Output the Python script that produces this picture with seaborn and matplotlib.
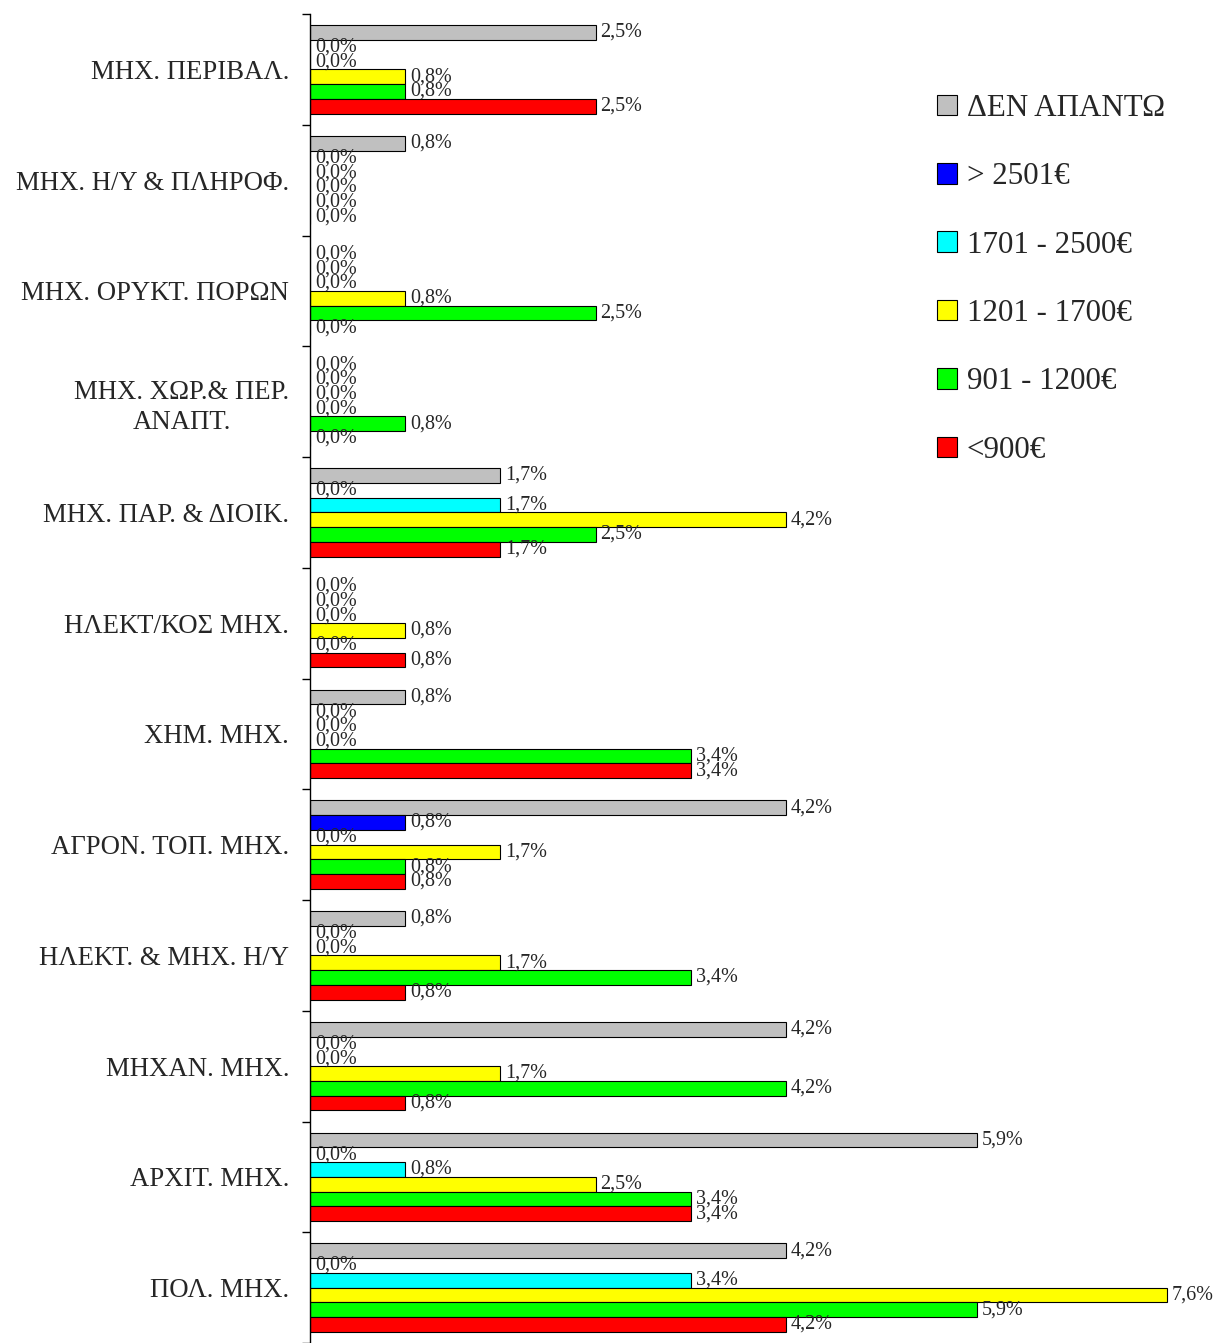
import numpy as np
import pandas as pd
import seaborn as sns
import matplotlib.pyplot as plt
from matplotlib.patches import Patch

# ---------- data (percent) ----------
categories = [
    "ΜΗΧ. ΠΕΡΙΒΑΛ.",
    "ΜΗΧ. Η/Υ & ΠΛΗΡΟΦ.",
    "ΜΗΧ. ΟΡΥΚΤ. ΠΟΡΩΝ",
    "ΜΗΧ. ΧΩΡ.& ΠΕΡ.\nΑΝΑΠΤ.",
    "ΜΗΧ. ΠΑΡ. & ΔΙΟΙΚ.",
    "ΗΛΕΚΤ/ΚΟΣ ΜΗΧ.",
    "ΧΗΜ. ΜΗΧ.",
    "ΑΓΡΟΝ. ΤΟΠ. ΜΗΧ.",
    "ΗΛΕΚΤ. & ΜΗΧ. Η/Υ",
    "ΜΗΧΑΝ. ΜΗΧ.",
    "ΑΡΧΙΤ. ΜΗΧ.",
    "ΠΟΛ. ΜΗΧ.",
]

series_names = ["ΔΕΝ ΑΠΑΝΤΩ", "> 2501€", "1701 - 2500€", "1201 - 1700€", "901 - 1200€", "<900€"]
series_colors = ["#C0C0C0", "#0000FF", "#00FFFF", "#FFFF00", "#00FF00", "#FF0000"]

no_answer = [2.52, 0.84, 0.0, 0.0, 1.68, 0.0, 0.84, 4.20, 0.84, 4.20, 5.88, 4.20]
over_2501 = [0.0, 0.0, 0.0, 0.0, 0.0, 0.0, 0.0, 0.84, 0.0, 0.0, 0.0, 0.0]
r1701_2500 = [0.0, 0.0, 0.0, 0.0, 1.68, 0.0, 0.0, 0.0, 0.0, 0.0, 0.84, 3.36]
r1201_1700 = [0.84, 0.0, 0.84, 0.0, 4.20, 0.84, 0.0, 1.68, 1.68, 1.68, 2.52, 7.56]
r901_1200 = [0.84, 0.0, 2.52, 0.84, 2.52, 0.0, 3.36, 0.84, 3.36, 4.20, 3.36, 5.88]
under_900 = [2.52, 0.0, 0.0, 0.0, 1.68, 0.84, 3.36, 0.84, 0.84, 0.84, 3.36, 4.20]

series_values = [no_answer, over_2501, r1701_2500, r1201_1700, r901_1200, under_900]

rows = []
for name, vals in zip(series_names, series_values):
    for cat, v in zip(categories, vals):
        rows.append({"category": cat, "series": name, "value": v})
df = pd.DataFrame(rows)

# ---------- style ----------
sns.set_style("white")
serif = ["Liberation Serif", "DejaVu Serif"]
plt.rcParams["font.family"] = serif

fig = plt.figure(figsize=(12.17, 13.43), dpi=100)
ax = fig.add_axes([310 / 1217, 0.0, 907 / 1217, 1 - 14 / 1343])

sns.barplot(
    data=df,
    x="value",
    y="category",
    hue="series",
    order=categories,
    hue_order=series_names,
    palette=series_colors,
    saturation=1,
    edgecolor="black",
    linewidth=0.8,
    width=0.8,
    legend=False,
    ax=ax,
)

# value labels, one decimal with comma
for cont, vals in zip(ax.containers, series_values):
    ax.bar_label(
        cont,
        labels=[f"{v:.1f}%".replace(".", ",") for v in vals],
        padding=3.5,
        fontsize=14.5,
    )

ax.set_xlim(0, 8)
ax.set_xlabel("")
ax.set_ylabel("")
ax.set_xticks([])

for s in ["top", "right", "bottom"]:
    ax.spines[s].set_visible(False)
ax.spines["left"].set_color("black")
ax.spines["left"].set_linewidth(1)

ax.set_yticks(range(len(categories)))
ax.set_yticklabels(categories, multialignment="center", linespacing=1.3)
ax.set_yticks(np.arange(-0.5, len(categories), 1), minor=True)
ax.tick_params(axis="y", which="major", length=0, pad=15, labelsize=19.3)
ax.tick_params(axis="y", which="minor", length=6, width=1, color="black", direction="out", left=True)

handles = [Patch(facecolor=c, edgecolor="black", linewidth=0.8) for c in series_colors]
fig.legend(
    handles,
    series_names,
    loc="upper left",
    bbox_to_anchor=(937 / 1217, 1 - 94 / 1343),
    frameon=False,
    fontsize=22.3,
    handlelength=0.645,
    handleheight=0.645,
    handletextpad=0.32,
    labelspacing=1.27,
    borderpad=0,
    borderaxespad=0,
)

plt.savefig("out.png", dpi=100)
